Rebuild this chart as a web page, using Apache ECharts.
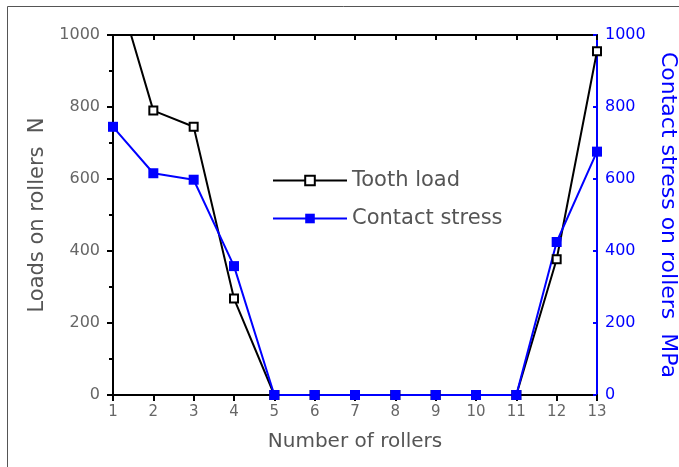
<!DOCTYPE html>
<html>
<head>
<meta charset="utf-8">
<style>
  html, body { margin: 0; padding: 0; background: #fff; }
  #chart { width: 679px; height: 467px; }
</style>
<script src="https://cdn.jsdelivr.net/npm/echarts@6/dist/echarts.min.js"></script>
</head>
<body>
<div id="chart"></div>
<script>
  // rollers 1..13
  var rollers = [1, 2, 3, 4, 5, 6, 7, 8, 9, 10, 11, 12, 13];
  // tooth load, N (first value runs off the top of the axis)
  var toothLoad = [1170, 790, 745, 268, 0, 0, 0, 0, 0, 0, 0, 377, 955];
  // contact stress, MPa
  var contactStress = [745, 616, 598, 358, 0, 0, 0, 0, 0, 0, 0, 425, 676];
  var seriesNames = ['Tooth load', 'Contact stress'];

  function pairs(xs, ys) {
    var out = [];
    for (var i = 0; i < xs.length; i++) out.push([xs[i], ys[i]]);
    return out;
  }

  var txt = '#555';
  var blue = '#0000ff';
  var plain = function (v) { return String(v); };

  var option = {
    animation: false,
    textStyle: { fontFamily: 'DejaVu Sans, sans-serif' },
    graphic: [{
      type: 'rect',
      shape: { x: 7.5, y: 6.5, width: 700, height: 500 },
      style: { fill: 'none', stroke: '#555', lineWidth: 1 },
      silent: true
    }],
    legend: {
      orient: 'vertical',
      left: 267,
      top: 165,
      itemWidth: 74,
      itemHeight: 12,
      itemGap: 17,
      textStyle: { fontSize: 21, color: txt },
      data: seriesNames
    },
    grid: { left: 113, right: 82, top: 35, bottom: 72, outerBoundsMode: 'none' },
    xAxis: [{
      type: 'value',
      min: 1, max: 13, interval: 1,
      name: 'Number of rollers',
      nameLocation: 'middle',
      nameGap: 37,
      nameTextStyle: { fontSize: 20, color: txt },
      axisLine: { lineStyle: { color: '#000', width: 2 } },
      axisTick: { length: 6, lineStyle: { color: '#000', width: 2 } },
      axisLabel: { fontSize: 15, color: '#666', margin: 10, formatter: plain },
      splitLine: { show: false }
    }, {
      type: 'value',
      position: 'top',
      min: 1, max: 13, interval: 1,
      axisLine: { show: true, onZero: false, lineStyle: { color: '#000', width: 2 } },
      axisTick: { show: true, inside: true, length: 5, lineStyle: { color: '#000', width: 2 } },
      axisLabel: { show: false },
      splitLine: { show: false }
    }],
    yAxis: [{
      type: 'value',
      min: 0, max: 1000, interval: 200,
      name: 'Loads on rollers  N',
      nameLocation: 'middle',
      nameGap: 58,
      nameTextStyle: { fontSize: 21, color: txt },
      axisLine: { show: true, lineStyle: { color: '#000', width: 2 } },
      axisTick: { show: true, length: 6, lineStyle: { color: '#000', width: 2 } },
      minorTick: { show: true, splitNumber: 2, length: 4, lineStyle: { color: '#000', width: 2 } },
      axisLabel: { fontSize: 16, color: '#666', margin: 13, formatter: plain },
      splitLine: { show: false }
    }, {
      type: 'value',
      position: 'right',
      min: 0, max: 1000, interval: 200,
      name: 'Contact stress on rollers  MPa',
      nameLocation: 'middle',
      nameRotate: -90,
      nameGap: 45,
      nameTextStyle: { fontSize: 22, color: blue },
      axisLine: { show: true, lineStyle: { color: blue, width: 2 } },
      axisTick: { show: true, inside: true, length: 4, lineStyle: { color: blue, width: 2 } },
      axisLabel: { fontSize: 16, color: blue, margin: 8, formatter: plain },
      splitLine: { show: false }
    }],
    series: [{
      name: seriesNames[0],
      type: 'line',
      xAxisIndex: 0,
      yAxisIndex: 0,
      data: pairs(rollers, toothLoad),
      clip: true,
      symbol: 'rect',
      symbolSize: 8,
      itemStyle: { color: '#fff', borderColor: '#000', borderWidth: 2 },
      lineStyle: { color: '#000', width: 2 }
    }, {
      name: seriesNames[1],
      type: 'line',
      xAxisIndex: 0,
      yAxisIndex: 1,
      data: pairs(rollers, contactStress),
      clip: false,
      symbol: 'rect',
      symbolSize: 10,
      itemStyle: { color: blue },
      lineStyle: { color: blue, width: 2 }
    }]
  };

  echarts.init(document.getElementById('chart')).setOption(option);
</script>
</body>
</html>
